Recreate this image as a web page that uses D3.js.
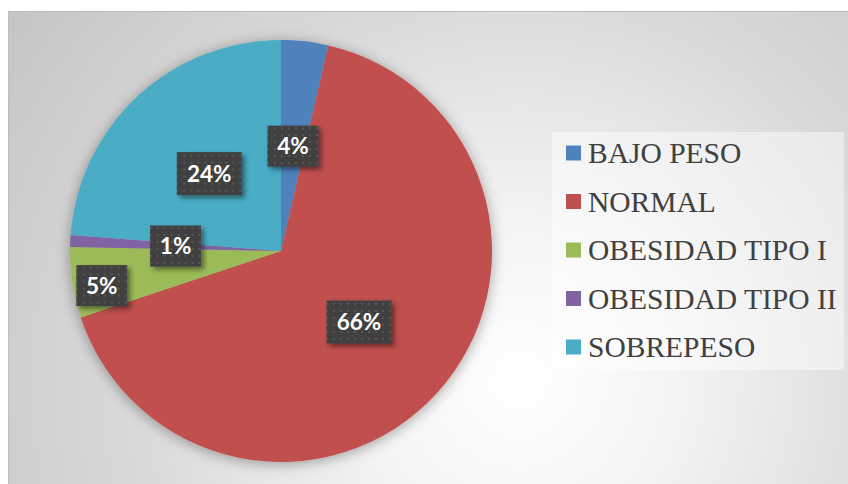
<!DOCTYPE html>
<html><head><meta charset="utf-8">
<script src="https://cdn.jsdelivr.net/npm/d3@7"></script>
<style>html,body{margin:0;padding:0;background:#fff;overflow:hidden}</style>
</head><body>
<svg id="c" width="848" height="484"></svg>
<script>
const categories = ["BAJO PESO", "NORMAL", "OBESIDAD TIPO I", "OBESIDAD TIPO II", "SOBREPESO"];
const values = [3.6, 66.3, 5.4, 0.9, 23.8];
const labels = ["4%", "66%", "5%", "1%", "24%"];
const colors = ["#4f81bd", "#c0504d", "#9bbb59", "#8064a2", "#4bacc6"];

const W = 848, H = 484;
const svg = d3.select("#c");
const defs = svg.append("defs");

const bg = defs.append("radialGradient").attr("id", "bg")
  .attr("gradientUnits", "userSpaceOnUse").attr("cx", 520).attr("cy", 380).attr("r", 640);
bg.append("stop").attr("offset", 0).attr("stop-color", "#ffffff");
bg.append("stop").attr("offset", 0.25).attr("stop-color", "#f4f4f4");
bg.append("stop").attr("offset", 0.6).attr("stop-color", "#dadada");
bg.append("stop").attr("offset", 1).attr("stop-color", "#c4c4c4");

const sh = defs.append("filter").attr("id", "pieShadow").attr("x", "-20%").attr("y", "-20%").attr("width", "140%").attr("height", "140%");
sh.append("feDropShadow").attr("dx", 0).attr("dy", 2).attr("stdDeviation", 7).attr("flood-color", "#000").attr("flood-opacity", 0.35);

const ls = defs.append("filter").attr("id", "lblShadow").attr("x", "-30%").attr("y", "-30%").attr("width", "160%").attr("height", "160%");
ls.append("feDropShadow").attr("dx", 3).attr("dy", 3).attr("stdDeviation", 2.5).attr("flood-color", "#000").attr("flood-opacity", 0.45);

const pat = defs.append("pattern").attr("id", "dots").attr("patternUnits", "userSpaceOnUse")
  .attr("width", 7).attr("height", 7);
pat.append("rect").attr("width", 7).attr("height", 7).attr("fill", "#404040");
pat.append("rect").attr("x", 2).attr("y", 2).attr("width", 2).attr("height", 2).attr("fill", "#575757");

svg.append("rect").attr("x", 8.5).attr("y", 11.5).attr("width", W).attr("height", H)
  .attr("fill", "url(#bg)").attr("stroke", "#bdbdbd");

const cx = 281, cy = 251, R = 211;
const pie = d3.pie().sort(null).value(d => d);
const arcs = pie(values);
const arc = d3.arc().innerRadius(0).outerRadius(R);

const g = svg.append("g").attr("transform", `translate(${cx},${cy})`);
g.append("g").attr("filter", "url(#pieShadow)")
  .selectAll("path").data(arcs).join("path")
  .attr("d", arc).attr("fill", (d, i) => colors[i]);

// label positions: centroid at R/2; a label that overlaps one already placed is pushed outward
const placed = [];
arcs.slice().reverse().forEach(d => {
  const i = d.index;
  const w = labels[i].length > 2 ? 65 : 51, h = labels[i].length > 2 ? 43 : 41;
  let [x, y] = arc.centroid(d);
  const overlaps = (x, y) => placed.some(p => Math.abs(p.x - x) < (p.w + w) / 2 && Math.abs(p.y - y) < (p.h + h) / 2);
  if (overlaps(x, y)) {
    const a = (d.startAngle + d.endAngle) / 2 - 0.04;
    const rr = R * 0.865;
    x = rr * Math.sin(a); y = -rr * Math.cos(a);
  }
  placed.push({x, y, w, h, i});
});

const lg = g.append("g");
placed.forEach(p => {
  const gg = lg.append("g").attr("transform", `translate(${p.x},${p.y})`);
  gg.append("rect").attr("x", -p.w / 2).attr("y", -p.h / 2).attr("width", p.w).attr("height", p.h)
    .attr("fill", "url(#dots)").attr("filter", "url(#lblShadow)");
  gg.append("text").attr("text-anchor", "middle").attr("dy", "0.36em")
    .attr("font-family", "Lato, 'Open Sans', sans-serif").attr("font-weight", "bold")
    .attr("font-size", 22.5).attr("fill", "#ffffff").text(labels[p.i]);
});

// legend
const legX = 552, legY = 132, legW = 292, legH = 238;
svg.append("rect").attr("x", legX).attr("y", legY).attr("width", legW).attr("height", legH)
  .attr("fill", "#ffffff").attr("fill-opacity", 0.45);
const ly = d3.scalePoint().domain(categories).range([legY + 21, legY + 215]);
const leg = svg.append("g");
categories.forEach((c, i) => {
  leg.append("rect").attr("x", 566).attr("y", ly(c) - 7.5).attr("width", 15).attr("height", 15).attr("fill", colors[i]);
  leg.append("text").attr("x", 588).attr("y", ly(c)).attr("dy", "0.34em")
    .attr("font-family", "'Liberation Serif', 'Times New Roman', serif")
    .attr("font-size", 29.5).attr("fill", "#404040").text(c);
});
</script>
</body></html>
